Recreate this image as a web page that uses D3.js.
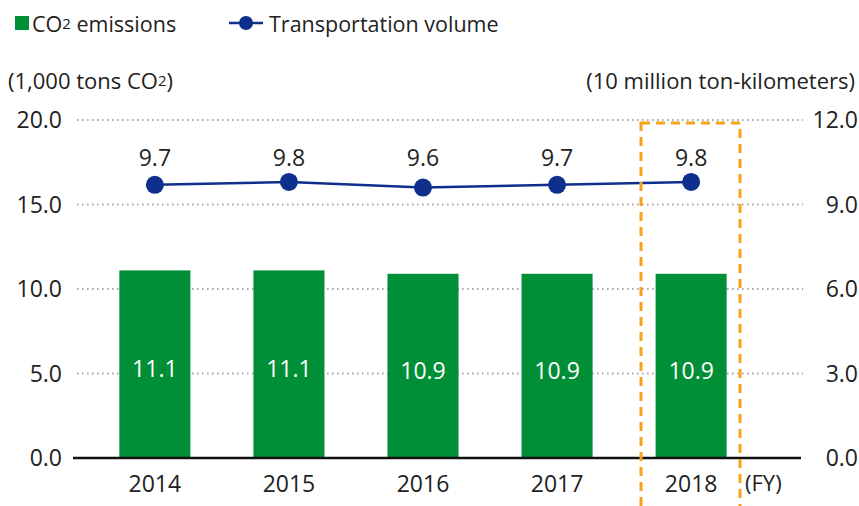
<!DOCTYPE html>
<html>
<head>
<meta charset="utf-8">
<script src="https://cdn.jsdelivr.net/npm/d3@7"></script>
<style>
  html, body { margin: 0; padding: 0; background: #fff; }
  svg { display: block; font-family: "Open Sans", "Noto Sans", sans-serif; }
</style>
</head>
<body>
<svg id="chart" width="859" height="506"></svg>
<script>
// Fiscal years and values
const years = ["2014", "2015", "2016", "2017", "2018"];
const co2Emissions = [11.1, 11.1, 10.9, 10.9, 10.9];          // 1,000 tons CO2
const transportVolume = [9.7, 9.8, 9.6, 9.7, 9.8];             // 10 million ton-km
const leftTicks = [0, 5, 10, 15, 20];
const rightTicks = [0, 3, 6, 9, 12];

const svg = d3.select("#chart");
const green = "#008f36";
const navy = "#0f2f8d";
const orange = "#f7a21b";
const textColor = "#222";

const x = d3.scaleBand().domain(years).range([88.5, 757.5])
  .paddingInner(0.47).paddingOuter(0.23);
const yL = d3.scaleLinear().domain([0, 20]).range([458, 120]);
const yR = d3.scaleLinear().domain([0, 12]).range([458, 120]);

// Dotted gridlines
svg.append("g").selectAll("line").data(leftTicks.filter(d => d > 0)).join("line")
  .attr("x1", 77).attr("x2", 803)
  .attr("y1", d => yL(d)).attr("y2", d => yL(d))
  .attr("stroke", "#aaa").attr("stroke-width", 1.8)
  .attr("stroke-dasharray", "1.6 3.4");

// Left axis labels
const leftAxis = d3.axisLeft(yL).tickValues(leftTicks).tickFormat(d3.format(".1f")).tickSize(0).tickPadding(0);
const gL = svg.append("g").attr("transform", "translate(62,0)").call(leftAxis);
gL.select(".domain").remove();
gL.selectAll("text").attr("font-size", 23).attr("fill", textColor)
  .attr("font-family", "'Open Sans', sans-serif").attr("dy", "0.34em");

// Right axis labels
const rightAxis = d3.axisRight(yR).tickValues(rightTicks).tickFormat(d3.format(".1f")).tickSize(0).tickPadding(0);
const gR = svg.append("g").attr("transform", "translate(858,0)").call(rightAxis);
gR.select(".domain").remove();
gR.selectAll("text").attr("font-size", 23).attr("fill", textColor)
  .attr("text-anchor", "end")
  .attr("font-family", "'Open Sans', sans-serif").attr("dy", "0.34em");

// Bars
svg.append("g").selectAll("rect").data(years).join("rect")
  .attr("x", d => x(d)).attr("width", x.bandwidth())
  .attr("y", (d, i) => yL(co2Emissions[i]))
  .attr("height", (d, i) => yL(0) - yL(co2Emissions[i]))
  .attr("fill", green);

// Bar value labels
svg.append("g").selectAll("text").data(years).join("text")
  .attr("x", d => x(d) + x.bandwidth() / 2)
  .attr("y", (d, i) => yL(co2Emissions[i] / 2) + 4)
  .attr("text-anchor", "middle").attr("dominant-baseline", "central")
  .attr("font-size", 23).attr("fill", "#fff")
  .text((d, i) => co2Emissions[i].toFixed(1));

// Baseline
svg.append("line").attr("x1", 73).attr("x2", 801)
  .attr("y1", yL(0)).attr("y2", yL(0))
  .attr("stroke", "#111").attr("stroke-width", 2.5);

// Year labels
const xAxis = d3.axisBottom(x).tickSize(0).tickPadding(0);
const gX = svg.append("g").attr("transform", `translate(0,${yL(0)})`).call(xAxis);
gX.select(".domain").remove();
gX.selectAll("text").attr("font-size", 23).attr("fill", textColor)
  .attr("font-family", "'Open Sans', sans-serif").attr("y", 26).attr("dy", "0.34em");
svg.append("text").attr("x", 745).attr("y", yL(0) + 26).attr("dy", "0.34em")
  .attr("font-size", 22).attr("fill", textColor).text("(FY)");

// Transportation volume line
const cx = d => x(d) + x.bandwidth() / 2;
const line = d3.line().x(d => cx(d.year)).y(d => yR(d.v));
const pts = years.map((y, i) => ({ year: y, v: transportVolume[i] }));
svg.append("path").datum(pts).attr("d", line)
  .attr("fill", "none").attr("stroke", navy).attr("stroke-width", 2.5);
svg.append("g").selectAll("circle").data(pts).join("circle")
  .attr("cx", d => cx(d.year)).attr("cy", d => yR(d.v)).attr("r", 9)
  .attr("fill", navy);
svg.append("g").selectAll("text").data(pts).join("text")
  .attr("x", d => cx(d.year)).attr("y", 157)
  .attr("text-anchor", "middle").attr("dominant-baseline", "central")
  .attr("font-size", 23).attr("fill", textColor)
  .text(d => d.v.toFixed(1));

// Highlight frame around latest year
svg.append("rect")
  .attr("x", 641).attr("y", 123).attr("width", 99).attr("height", 400)
  .attr("fill", "none").attr("stroke", orange).attr("stroke-width", 3)
  .attr("stroke-dasharray", "9 6");

// Legend
svg.append("rect").attr("x", 15).attr("y", 16).attr("width", 14).attr("height", 14).attr("fill", green);
const lg1 = svg.append("text").attr("x", 32).attr("y", 23).attr("dominant-baseline", "central")
  .attr("font-size", 21.5).attr("fill", textColor);
lg1.append("tspan").text("CO");
lg1.append("tspan").attr("font-size", 15).text("2");
lg1.append("tspan").text(" emissions");

svg.append("line").attr("x1", 229).attr("x2", 263).attr("y1", 23).attr("y2", 23)
  .attr("stroke", navy).attr("stroke-width", 2.5);
svg.append("circle").attr("cx", 246).attr("cy", 23).attr("r", 7).attr("fill", navy);
svg.append("text").attr("x", 269).attr("y", 23).attr("dominant-baseline", "central")
  .attr("font-size", 21.5).attr("fill", textColor).text("Transportation volume");

// Axis unit captions
const u1 = svg.append("text").attr("x", 8).attr("y", 80).attr("dominant-baseline", "central")
  .attr("font-size", 22).attr("fill", textColor);
u1.append("tspan").text("(1,000 tons CO");
u1.append("tspan").attr("font-size", 15).text("2");
u1.append("tspan").text(")");
svg.append("text").attr("x", 855).attr("y", 80).attr("dominant-baseline", "central")
  .attr("text-anchor", "end").attr("font-size", 22).attr("fill", textColor)
  .text("(10 million ton-kilometers)");
</script>
</body>
</html>
